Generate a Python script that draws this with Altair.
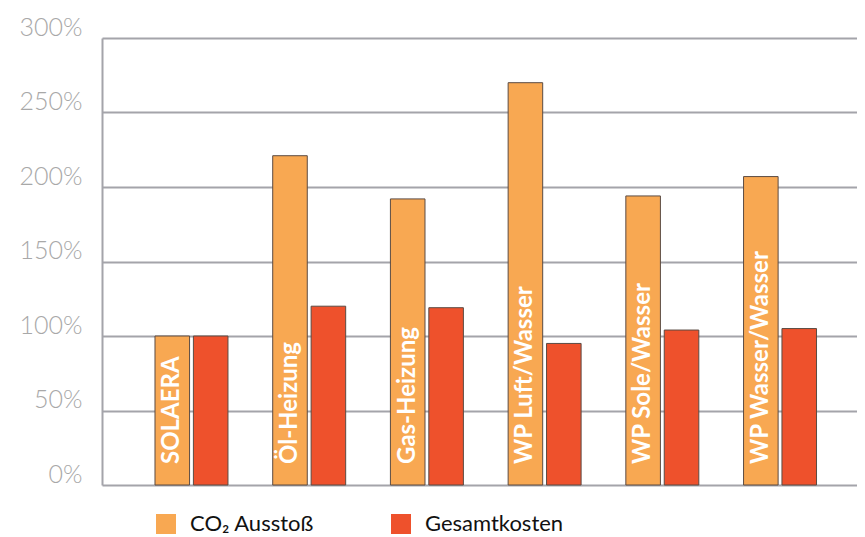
import altair as alt
import pandas as pd

categories = ["SOLAERA", "Öl-Heizung", "Gas-Heizung", "WP Luft/Wasser", "WP Sole/Wasser", "WP Wasser/Wasser"]
co2_values = [100, 221, 192, 270, 194, 207]
cost_values = [100, 120, 119, 95, 104, 105]
series_names = ["CO₂ Ausstoß", "Gesamtkosten"]
series_colors = ["#F8A852", "#EE512C"]
y_ticks = [0, 50, 100, 150, 200, 250, 300]

rows = []
for c, a, b in zip(categories, co2_values, cost_values):
    rows.append({"kategorie": c, "serie": series_names[0], "wert": a})
    rows.append({"kategorie": c, "serie": series_names[1], "wert": b})
df = pd.DataFrame(rows)

grey = "#a4a4aa"

x = alt.X("kategorie:N", sort=categories, axis=None,
          scale=alt.Scale(paddingInner=0.38, paddingOuter=0.397, align=0.567))
xo = alt.XOffset("serie:N", sort=series_names, scale=alt.Scale(paddingInner=0.1))
y = alt.Y("wert:Q", scale=alt.Scale(domain=[0, 300], nice=False),
          axis=alt.Axis(values=y_ticks, labelExpr="datum.value + '%'", title=None,
                        ticks=False, domain=True, domainColor=grey, domainWidth=2,
                        gridColor=grey, gridWidth=2, labelColor="#a8a8a8",
                        labelFontSize=25, labelFont="Lato", labelFontWeight=300,
                        labelPadding=20, labelBaseline="alphabetic", labelOffset=-3))

bars = alt.Chart(df).mark_bar(stroke="#5b4b43", strokeWidth=1).encode(
    x=x, xOffset=xo, y=y,
    color=alt.Color("serie:N", sort=series_names,
                    scale=alt.Scale(domain=series_names, range=series_colors),
                    legend=alt.Legend(title=None, orient="none", legendX=53, legendY=475,
                                      direction="horizontal", symbolType="square",
                                      symbolSize=400, symbolStrokeWidth=0, symbolOpacity=1,
                                      labelFontSize=22, labelFont="Lato", labelColor="#111111",
                                      labelOffset=13, columnPadding=76))
)

labels = alt.Chart(df).transform_filter(
    alt.datum.serie == series_names[0]
).mark_text(angle=270, align="left", baseline="middle", dx=21, color="white",
            font="Lato", fontWeight="bold", fontSize=24).encode(
    x=x, xOffset=xo, y=alt.datum(0), text="kategorie:N"
)

chart = alt.layer(bars, labels).properties(
    width=755, height=447,
    padding={"left": 94, "top": 30, "right": 0, "bottom": 52},
    autosize=alt.AutoSizeParams(type="none"),
).configure_view(stroke=None)

chart.save("out.html", embed_options={"renderer": "svg", "actions": False})
